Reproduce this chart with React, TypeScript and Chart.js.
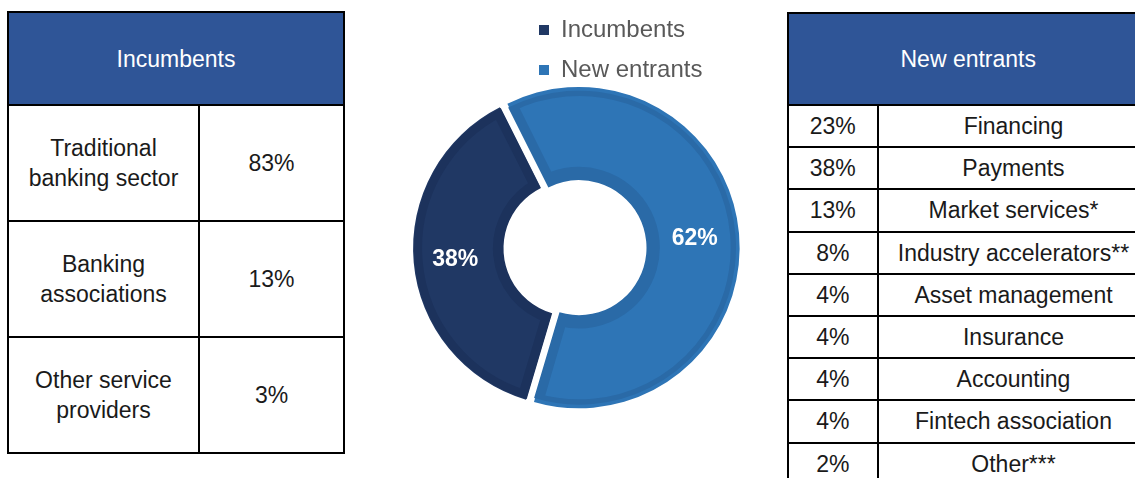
import React, { useEffect, useRef } from 'react';
import { Chart, registerables, layouts } from 'chart.js';

Chart.register(...registerables);

// ---- data ----
const donutLabels = ['Incumbents', 'New entrants'];
const donutValues = [38, 62];
const donutColors = ['#203864', '#2e75b6'];
const donutEdgeColors = ['#1c325c', '#2a6aa7'];

const incumbentCategories = ['Traditional\nbanking sector', 'Banking\nassociations', 'Other service\nproviders'];
const incumbentShares = [83, 13, 3];

const entrantShares = [23, 38, 13, 8, 4, 4, 4, 4, 2];
const entrantCategories = [
  'Financing',
  'Payments',
  'Market services*',
  'Industry accelerators**',
  'Asset management',
  'Insurance',
  'Accounting',
  'Fintech association',
  'Other***',
];

// ---- styling / layout ----
const FONT = "'Liberation Sans', Arial, Helvetica, sans-serif";
const HEADER_BG = '#2f5597';
const TEXT = '#1a1a1a';
const SPACER_WIDTH = 133;

const rightSpacer = {
  id: 'rightSpacer',
  beforeInit(chart: any) {
    const box: any = {
      position: 'right',
      weight: 0,
      fullSize: false,
      options: { display: true, stackWeight: 1 },
      left: 0,
      top: 0,
      right: 0,
      bottom: 0,
      width: 0,
      height: 0,
      isHorizontal() {
        return false;
      },
      update(_maxWidth: number, maxHeight: number) {
        box.width = SPACER_WIDTH;
        box.height = maxHeight;
      },
      draw() {},
    };
    layouts.addBox(chart, box);
  },
};

const sliceLabels = {
  id: 'sliceLabels',
  afterDatasetsDraw(chart: any) {
    const ctx = chart.ctx;
    const meta = chart.getDatasetMeta(0);
    const values = chart.data.datasets[0].data as number[];
    ctx.save();
    ctx.fillStyle = '#ffffff';
    ctx.font = `bold 23px ${FONT}`;
    ctx.textAlign = 'center';
    ctx.textBaseline = 'middle';
    meta.data.forEach((arc: any, i: number) => {
      const p = arc.getCenterPoint();
      ctx.fillText(`${values[i]}%`, p.x, p.y + 1);
    });
    ctx.restore();
  },
};

function Cell(props: {
  x0: number;
  y0: number;
  x1: number;
  y1: number;
  bg?: string;
  color?: string;
  children?: React.ReactNode;
}) {
  const { x0, y0, x1, y1, bg, color, children } = props;
  return (
    <div
      style={{
        position: 'absolute',
        left: x0 - 1,
        top: y0 - 1,
        width: x1 - x0 + 2,
        height: y1 - y0 + 2,
        boxSizing: 'border-box',
        border: '2px solid #000',
        background: bg || 'transparent',
        color: color || TEXT,
        display: 'flex',
        alignItems: 'center',
        justifyContent: 'center',
        textAlign: 'center',
        whiteSpace: 'pre-line',
        fontFamily: FONT,
        fontSize: 23,
        lineHeight: '30px',
      }}
    >
      {children}
    </div>
  );
}

function DonutChart() {
  const ref = useRef<HTMLCanvasElement | null>(null);
  useEffect(() => {
    if (!ref.current) return;
    const chart = new Chart(ref.current, {
      type: 'doughnut',
      data: {
        labels: donutLabels,
        datasets: [
          {
            data: donutValues,
            backgroundColor: donutColors,
            borderColor: donutEdgeColors,
            borderWidth: 9,
            borderAlign: 'inner',
            offset: 16,
            hoverOffset: 16,
            clip: false,
          } as any,
        ],
      },
      options: {
        responsive: false,
        animation: false,
        rotation: 196.5,
        radius: 157,
        cutout: '43%',
        layout: { padding: { left: 173, right: 20, top: 2, bottom: 74 } },
        events: [],
        plugins: {
          legend: {
            position: 'top',
            align: 'start',
            labels: {
              boxWidth: 10,
              boxHeight: 10,
              padding: 16,
              color: '#595959',
              font: { size: 24, family: FONT },
              generateLabels: () =>
                donutLabels.map((text, i) => ({
                  text,
                  fillStyle: donutColors[i],
                  strokeStyle: donutColors[i],
                  lineWidth: 0,
                  fontColor: '#595959',
                  hidden: false,
                  index: i,
                })),
            },
          },
          tooltip: { enabled: false },
        },
      } as any,
      plugins: [rightSpacer, sliceLabels],
    });
    return () => chart.destroy();
  }, []);
  return (
    <canvas
      ref={ref}
      width={430}
      height={478}
      style={{ position: 'absolute', left: 350, top: 0, width: 430, height: 478 }}
    />
  );
}

export default function App() {
  const leftXs = [8, 199, 344];
  const leftYs = [105, 221, 337, 453];
  const rightXs = [787.5, 878, 1149];
  const rowH = 42.2;
  return (
    <div
      style={{
        position: 'fixed',
        left: 0,
        top: 0,
        width: 1135,
        height: 478,
        overflow: 'hidden',
        background: '#fff',
      }}
    >
      {/* Incumbents table */}
      <Cell x0={leftXs[0]} y0={12} x1={leftXs[2]} y1={105} bg={HEADER_BG} color="#fff">
        Incumbents
      </Cell>
      {incumbentCategories.map((cat, i) => (
        <React.Fragment key={cat}>
          <Cell x0={leftXs[0]} y0={leftYs[i]} x1={leftXs[1]} y1={leftYs[i + 1]}>
            {cat}
          </Cell>
          <Cell x0={leftXs[1]} y0={leftYs[i]} x1={leftXs[2]} y1={leftYs[i + 1]}>
            {`${incumbentShares[i]}%`}
          </Cell>
        </React.Fragment>
      ))}

      <DonutChart />

      {/* New entrants table */}
      <Cell x0={rightXs[0]} y0={12.5} x1={rightXs[2]} y1={105} bg={HEADER_BG} color="#fff">
        New entrants
      </Cell>
      {entrantCategories.map((cat, i) => {
        const y0 = 105 + i * rowH;
        const y1 = 105 + (i + 1) * rowH;
        return (
          <React.Fragment key={cat}>
            <Cell x0={rightXs[0]} y0={y0} x1={rightXs[1]} y1={y1}>
              {`${entrantShares[i]}%`}
            </Cell>
            <Cell x0={rightXs[1]} y0={y0} x1={rightXs[2]} y1={y1}>
              {cat}
            </Cell>
          </React.Fragment>
        );
      })}
    </div>
  );
}
